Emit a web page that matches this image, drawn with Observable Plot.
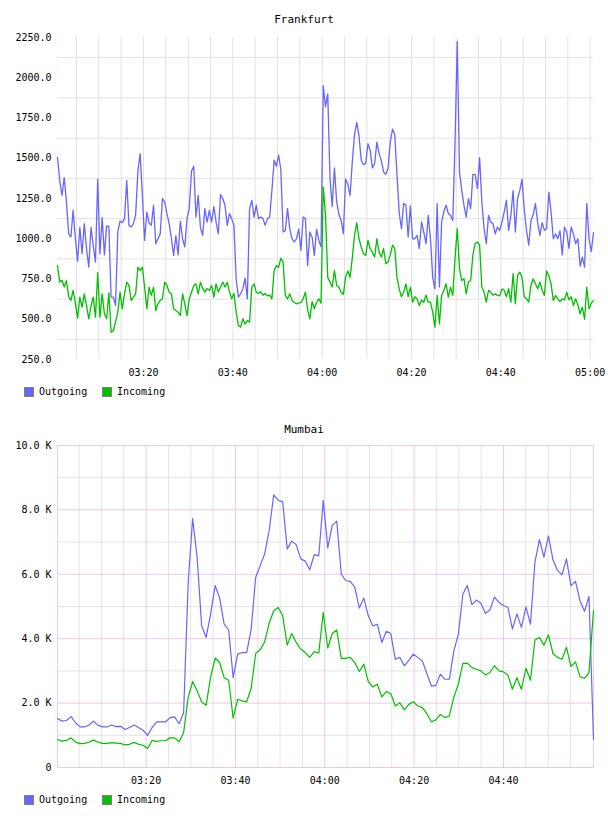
<!DOCTYPE html>
<html>
<head>
<meta charset="utf-8">
<script src="https://cdn.jsdelivr.net/npm/d3@7"></script>
<script src="https://cdn.jsdelivr.net/npm/@observablehq/plot@0.6"></script>
<style>
  html, body { margin: 0; padding: 0; background: #fff; }
  body { position: relative; width: 608px; height: 816px; overflow: hidden;
         font-family: "DejaVu Sans Mono", monospace; color: #000; }
  .title { position: absolute; left: 0; width: 608px; text-align: center;
           font-size: 11px; line-height: 14px; }
  .chart { position: absolute; left: 0; }
  .chart svg { display: block; }
  .item { position: absolute; font-size: 10px; line-height: 12px; height: 12px;
          display: flex; align-items: center; }
  .sw { width: 8px; height: 8px; border: 1px solid #808080; margin-right: 5px; }
</style>
</head>
<body>
<div class="title" id="fra-title" style="top:13px"></div>
<div class="chart" id="fra-chart" style="top:27px"></div>
<div id="fra-legend"></div>
<div class="title" id="mum-title" style="top:423px"></div>
<div class="chart" id="mum-chart" style="top:435px"></div>
<div id="mum-legend"></div>
<script>
// ---- series names and colours ----
const seriesNames = ["Outgoing", "Incoming"];
const seriesColors = ["#6666ff", "#00c000"];

// ---- Frankfurt: samples every 30 s starting 03:00:45 ----
const fraTitle = "Frankfurt";
const fraStart = "03:00:45";
const fraStepSeconds = 30;
const fraOutgoing = [
  1505,1360,1270,1380,1230,1030,1011,1177,1000,860,
  1070,907,1094,938,824,1070,959,855,1370,907,
  1131,900,1080,1075,637,637,585,1042,1110,1100,
  1125,1363,1083,1073,1094,1150,1420,1529,1270,990,
  1166,1098,1083,1208,969,1000,1031,1250,1229,1156,
  1094,1000,897,1020,900,1110,1000,949,1125,1190,
  1420,1450,1135,1270,1070,1021,1187,1104,1176,1104,
  1200,1104,1031,1274,1250,1208,1083,1156,1125,1083,
  750,637,658,690,755,627,1187,1239,1135,1208,
  1125,1135,1125,1083,1125,1135,1300,1488,1450,1519,
  1430,1042,1052,1187,1063,1000,980,1000,1060,928,
  1135,1125,834,1042,1010,897,1060,990,950,1950,
  1820,1900,1380,1200,1440,1230,1150,1114,1031,1370,
  1340,1270,1478,1650,1722,1640,1488,1460,1467,1590,
  1550,1440,1467,1600,1529,1485,1415,1400,1436,1600,
  1681,1648,1400,1160,1063,1220,1208,1011,1204,1000,
  1000,1021,940,1104,1042,970,1145,1000,760,689,
  1218,700,1104,1170,1208,1156,1145,1114,1600,2225,
  1415,1300,1208,1135,1249,1187,1400,1400,1312,1503,
  1229,1063,969,1145,1104,1094,1031,1073,1050,1104,
  1166,1239,1052,1145,1300,1042,1249,1300,1370,1180,
  1052,960,1114,1150,1218,1100,1021,1100,1052,1063,
  1290,1166,1000,1030,1000,1050,900,1073,1042,940,
  1073,1030,969,1000,830,886,824,1218,1000,920,
  1038
];
const fraIncoming = [
  834,731,742,700,740,640,617,679,600,507,
  637,575,658,585,503,580,637,513,789,513,
  658,534,503,664,419,430,482,544,668,565,
  658,731,710,617,637,658,824,803,824,700,
  565,700,648,700,554,596,617,627,731,710,
  668,658,565,554,544,523,658,596,523,627,
  668,710,720,658,731,690,668,690,680,710,
  637,720,670,700,731,700,730,670,627,660,
  544,461,451,503,470,492,482,700,720,668,
  660,670,650,660,645,650,627,803,834,823,
  880,855,650,627,658,617,605,596,600,605,
  627,668,560,503,610,565,605,627,600,1322,
  1150,760,731,700,803,710,700,668,655,762,
  800,760,880,1021,1100,1000,948,907,897,990,
  938,917,886,1000,917,886,938,845,855,900,
  960,940,760,689,640,668,720,640,700,606,
  640,627,585,620,606,650,606,606,544,451,
  648,472,648,680,720,637,700,648,880,1063,
  814,740,752,658,731,741,900,969,980,960,
  700,668,606,680,668,650,658,648,645,689,
  680,640,690,606,783,596,772,793,760,640,
  627,606,710,752,720,689,731,680,648,800,
  770,720,617,648,627,610,627,620,668,620,
  640,585,627,590,534,575,500,700,565,600,
  617
];
const fraYTicks = [250, 500, 750, 1000, 1250, 1500, 1750, 2000, 2250];
const fraYGrid = [375, 625, 875, 1125, 1375, 1625, 1875, 2125];
const fraXTicks = ["03:20", "03:40", "04:00", "04:20", "04:40", "05:00"];

// ---- Mumbai: samples roughly every minute starting 03:00:10 ----
const mumTitle = "Mumbai";
const mumStart = "03:00:10";
const mumStepSeconds = 60.5;
const mumOutgoing = [
  1520,1440,1460,1580,1390,1260,1260,1320,1440,1310,
  1260,1260,1320,1270,1280,1180,1240,1320,1240,1160,
  1000,1240,1420,1420,1420,1550,1570,1360,1700,5700,
  7730,6530,4400,4040,4770,5650,5260,4450,4270,2790,
  3520,3570,3570,4300,5910,6270,6640,7360,8470,8300,
  8250,6790,7030,6920,6480,6410,6140,6610,6570,8300,
  6820,7520,7650,6010,5800,5780,5600,4950,5260,4710,
  4400,4450,3880,4230,4160,3360,3420,3160,3330,3520,
  3420,3310,2920,2530,2550,2900,2740,2740,3620,4140,
  5390,5650,5060,5200,5100,4790,4890,5290,5130,5030,
  4970,4300,4770,4350,4990,4450,6380,7080,6530,7190,
  6450,6120,5980,6480,5650,5780,5180,4850,5310,870
];
const mumIncoming = [
  870,820,840,920,790,740,750,790,850,790,
  750,750,770,760,750,700,720,780,720,690,
  590,840,810,830,830,920,920,800,1080,2170,
  2670,2380,2040,1930,2810,3400,3260,2790,2710,1530,
  2120,2070,2040,2460,3540,3660,3900,4480,4870,4970,
  4710,3800,4160,3880,3680,3570,3420,3600,3550,4820,
  3710,4160,4270,3390,3390,3420,3260,2980,3210,2670,
  2500,2590,2190,2360,2290,1910,2010,1790,1960,2040,
  1910,1860,1670,1420,1480,1650,1550,1600,2190,2590,
  3230,3240,3100,3050,3000,2870,2950,3160,3000,2970,
  2870,2430,2790,2430,3080,2710,3960,4040,3800,4120,
  3540,3420,3360,3730,3130,3280,2820,2770,2950,4870
];
const mumYTicks = [0, 2000, 4000, 6000, 8000, 10000];
const mumYMinor = [1000, 3000, 5000, 7000, 9000];
const mumYMajor = [2000, 4000, 6000, 8000];
const mumXTicks = ["03:20", "03:40", "04:00", "04:20", "04:40"];

// ---- helpers ----
const DAY = Date.UTC(2000, 0, 1);
function clock(hhmmss) {
  const [h, m, s] = hhmmss.split(":").map(Number);
  return new Date(DAY + ((h * 60 + m) * 60 + (s || 0)) * 1000);
}
function hhmm(d) {
  return String(d.getUTCHours()).padStart(2, "0") + ":" + String(d.getUTCMinutes()).padStart(2, "0");
}
function rows(start, step, out, inc) {
  const t0 = clock(start).getTime();
  const r = [];
  out.forEach((v, i) => r.push({t: new Date(t0 + i * step * 1000), v, s: seriesNames[0]}));
  inc.forEach((v, i) => r.push({t: new Date(t0 + i * step * 1000), v, s: seriesNames[1]}));
  return r;
}
function legend(id, top) {
  const host = document.getElementById(id);
  const lefts = [24, 102];
  seriesNames.forEach((name, i) => {
    const item = document.createElement("div");
    item.className = "item";
    item.style.left = lefts[i] + "px";
    item.style.top = top + "px";
    const sw = document.createElement("span");
    sw.className = "sw";
    sw.style.background = seriesColors[i];
    item.appendChild(sw);
    item.appendChild(document.createTextNode(name));
    host.appendChild(item);
  });
}
const font = {fontFamily: "'DejaVu Sans Mono', monospace", fontSize: "10px", background: "white", color: "#000", overflow: "visible"};

// ---- Frankfurt chart ----
const fraData = rows(fraStart, fraStepSeconds, fraOutgoing, fraIncoming);
const fraDomain = d3.extent(fraData, d => d.t);
const fraGridX = d3.utcMinute.every(5).range(d3.utcMinute.ceil(new Date(+fraDomain[0] + 1)), new Date(+fraDomain[1] + 1));
document.getElementById("fra-title").textContent = fraTitle;
document.getElementById("fra-chart").appendChild(Plot.plot({
  width: 608, height: 354,
  marginTop: 10, marginBottom: 22, marginLeft: 57, marginRight: 15,
  style: font,
  x: {type: "utc", domain: fraDomain, ticks: fraXTicks.map(clock), tickFormat: hhmm,
      tickSize: 0, tickPadding: 9, label: null},
  y: {domain: [250, 2250], ticks: fraYTicks, tickFormat: d => d.toFixed(1),
      tickSize: 0, tickPadding: 6, label: null},
  color: {domain: seriesNames, range: seriesColors},
  marks: [
    Plot.ruleX(fraGridX, {stroke: "#e2e2e2", strokeWidth: 1}),
    Plot.ruleY(fraYGrid, {stroke: "#e2e2e2", strokeWidth: 1}),
    Plot.line(fraData, {x: "t", y: "v", z: "s", stroke: "s", strokeWidth: 1.3})
  ]
}));
legend("fra-legend", 386);

// ---- Mumbai chart ----
const mumData = rows(mumStart, mumStepSeconds, mumOutgoing, mumIncoming);
const mumDomain = d3.extent(mumData, d => d.t);
const mumGridX = d3.utcMinute.every(5).range(d3.utcMinute.ceil(new Date(+mumDomain[0] + 1)), new Date(+mumDomain[0] + 119 * 60000));
const mumGridMinor = mumGridX.filter(d => d.getUTCMinutes() % 20 !== 0);
const mumGridMajor = mumGridX.filter(d => d.getUTCMinutes() % 20 === 0);
const pink = "#e6cce6";
document.getElementById("mum-title").textContent = mumTitle;
document.getElementById("mum-chart").appendChild(Plot.plot({
  width: 608, height: 354,
  marginTop: 10, marginBottom: 22, marginLeft: 57, marginRight: 15,
  style: font,
  x: {type: "utc", domain: mumDomain, ticks: mumXTicks.map(clock), tickFormat: hhmm,
      tickSize: 0, tickPadding: 9, label: null},
  y: {domain: [0, 10000], ticks: mumYTicks,
      tickFormat: d => d === 0 ? "0" : (d / 1000).toFixed(1) + " K",
      tickSize: 0, tickPadding: 6, label: null},
  color: {domain: seriesNames, range: seriesColors},
  marks: [
    Plot.ruleX(mumGridMinor, {stroke: "#e4e4e4"}),
    Plot.ruleY(mumYMinor, {stroke: "#e4e4e4"}),
    Plot.ruleX(mumGridMajor, {stroke: pink}),
    Plot.ruleY(mumYMajor, {stroke: pink}),
    Plot.frame({stroke: pink}),
    Plot.line(mumData, {x: "t", y: "v", z: "s", stroke: "s", strokeWidth: 1.2})
  ]
}));
legend("mum-legend", 794);
</script>
</body>
</html>
